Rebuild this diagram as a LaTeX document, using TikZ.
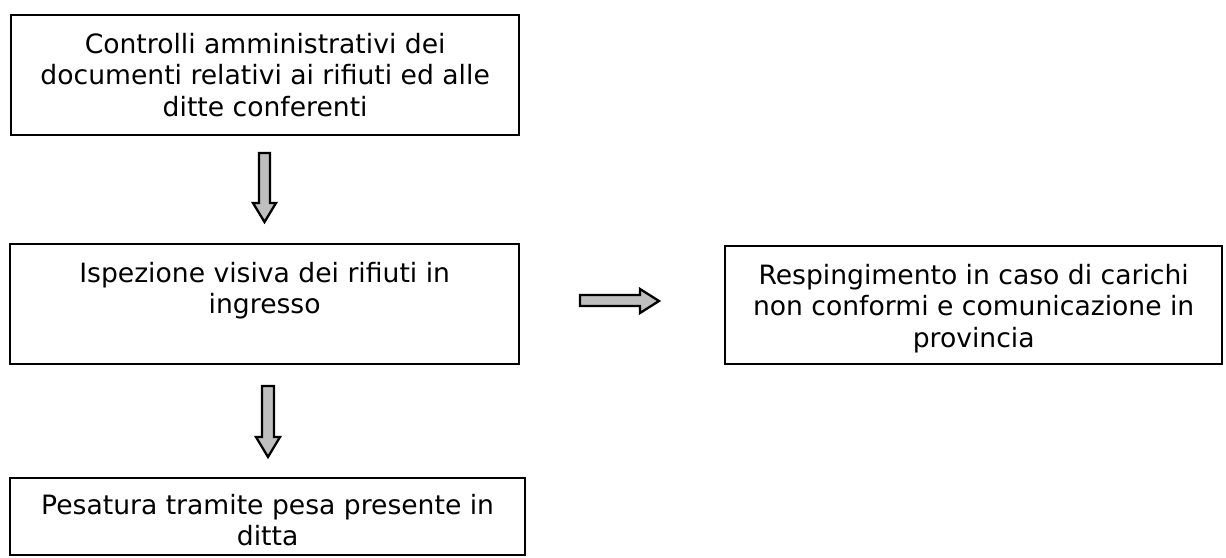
\documentclass[tikz,border=0pt]{standalone}
\usepackage{fontspec}
\setmainfont{DejaVu Sans}
\begin{document}
\begin{tikzpicture}[x=1pt,y=-1pt,
  box/.style={draw=black,line width=2.3pt,anchor=north west,inner sep=0pt},
  txt/.style={anchor=north,inner sep=0pt,align=center,font=\fontsize{26.6}{31.5}\selectfont},
  blockarrow/.style={draw=black,fill=black!25,line width=2.3pt,line join=miter}]
\useasboundingbox (0,0) rectangle (1226,557);
\node[box,minimum width=508pt,minimum height=120pt] (b1) at (10,14) {};
\node[box,minimum width=509pt,minimum height=120pt] (b2) at (9,243) {};
\node[box,minimum width=497pt,minimum height=118pt] (b3) at (724,245) {};
\node[box,minimum width=515pt,minimum height=77pt] (b4) at (9,477) {};
\node[txt,yshift=-19pt] (t1) at (b1.north) {Controlli amministrativi dei\\documenti relativi ai rifiuti ed alle\\ditte conferenti};
\node[txt,yshift=-19pt] (t2) at (b2.north) {Ispezione visiva dei rifiuti in\\ingresso};
\node[txt,yshift=-19pt] (t3) at (b3.north) {Respingimento in caso di carichi\\non conformi e comunicazione in\\provincia};
\node[txt,yshift=-17pt] (t4) at (b4.north) {Pesatura tramite pesa presente in\\ditta};
\draw[blockarrow] (259,153) -- (270,153) -- (270,203) -- (276,203) -- (264.5,222) -- (253,203) -- (259,203) -- cycle;
\draw[blockarrow] (262,386) -- (274,386) -- (274,437) -- (280,437) -- (268,457) -- (256,437) -- (262,437) -- cycle;
\draw[blockarrow] (580,295) -- (640,295) -- (640,289) -- (659,301) -- (640,313) -- (640,306) -- (580,306) -- cycle;
\end{tikzpicture}
\end{document}
